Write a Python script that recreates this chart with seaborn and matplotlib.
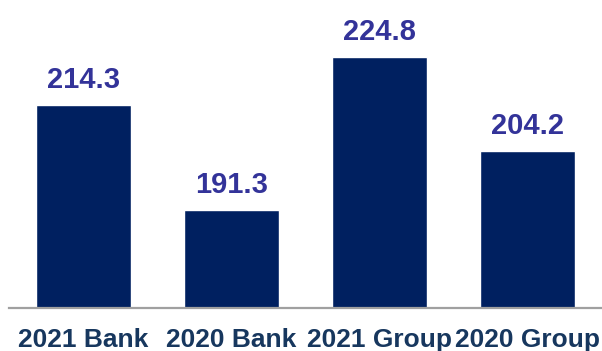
import matplotlib
matplotlib.use("Agg")
import matplotlib.pyplot as plt
import seaborn as sns
import pandas as pd

categories = ["2021 Bank", "2020 Bank", "2021 Group", "2020 Group"]
values = [214.3, 191.3, 224.8, 204.2]
value_labels = ["214.3", "191.3", "224.8", "204.2"]

sns.set_theme(style="white")
plt.rcParams["font.family"] = ["Liberation Sans", "DejaVu Sans"]

df = pd.DataFrame({"category": categories, "value": values})

fig = plt.figure(figsize=(6.02, 3.51), dpi=100)
ax = fig.add_axes([9 / 602, 43.5 / 351, 593 / 602, 307.5 / 351])

sns.barplot(data=df, x="category", y="value", color="#002060",
            saturation=1, width=0.64, ax=ax)

ax.set_ylim(170, 237.2)
ax.set_xlim(-0.5, 3.5)

for patch, lab in zip(ax.patches, value_labels):
    x = patch.get_x() + patch.get_width() / 2
    ax.annotate(lab, (x, patch.get_height()), xytext=(0, 12.0),
                textcoords="offset points", ha="center", va="baseline",
                fontsize=21, fontweight="bold", color="#333399")

ax.set_xlabel("")
ax.set_ylabel("")
ax.set_yticks([])
ax.tick_params(axis="x", length=0, pad=14.5, labelsize=19)
for t in ax.get_xticklabels():
    t.set_fontweight("bold")
    t.set_color("#17375E")

for side in ["top", "right", "left"]:
    ax.spines[side].set_visible(False)
ax.spines["bottom"].set_color("#a0a0a0")
ax.spines["bottom"].set_linewidth(1.6)

fig.savefig("out.png", dpi=100)
